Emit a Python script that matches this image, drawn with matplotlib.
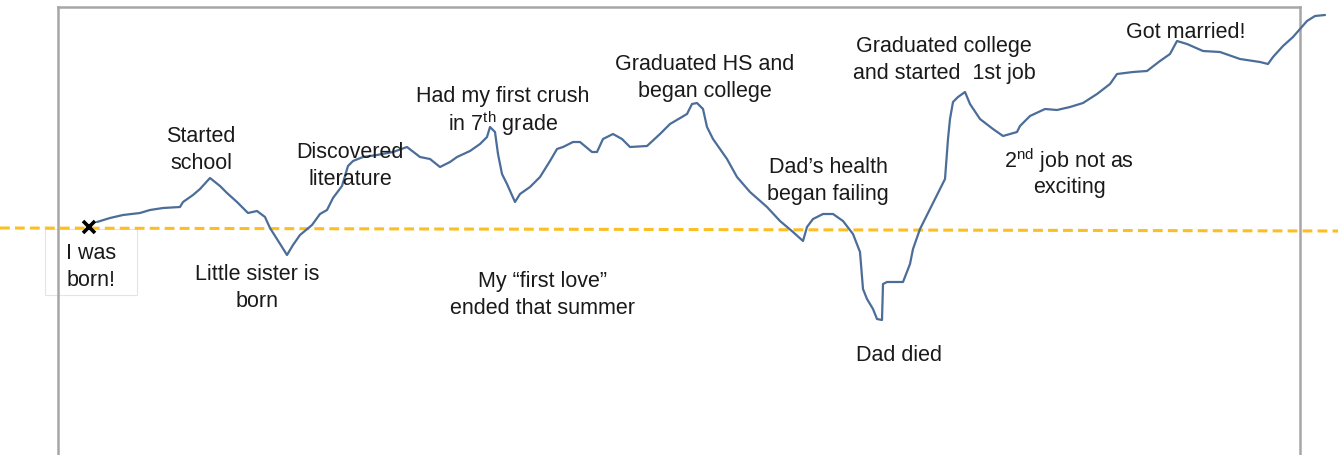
import matplotlib.pyplot as plt
from matplotlib.patches import Rectangle

plt.rcParams['font.family'] = ['Liberation Sans', 'DejaVu Sans']
plt.rcParams['mathtext.fontset'] = 'custom'
plt.rcParams['mathtext.rm'] = 'Liberation Sans'
plt.rcParams['mathtext.it'] = 'Liberation Sans'

# life line (x = time, y = screen height, smaller = happier)
life_x = [97, 110, 123, 140, 150, 163, 180, 183, 193, 200, 210, 220, 227, 237, 248,
          257, 265, 270, 277, 282, 287, 293, 300, 312, 320, 327, 333, 342, 348, 353,
          363, 377, 393, 407, 420, 430, 440, 450, 457, 470, 480, 487, 490, 495, 498,
          502, 507, 515, 520, 530, 540, 550, 557, 563, 573, 580, 592, 597, 603, 613,
          622, 630, 647, 660, 670, 687, 692, 697, 703, 707, 713, 720, 727, 737, 750,
          767, 780, 793, 803, 807, 813, 823, 833, 843, 853, 860, 863, 867, 873, 877,
          882, 883, 887, 903, 910, 913, 920, 930, 940, 945, 948, 950, 953, 958, 965,
          970, 980, 993, 1003, 1017, 1020, 1030, 1045, 1057, 1070, 1083, 1097, 1110,
          1117, 1133, 1147, 1160, 1170, 1177, 1187, 1203, 1220, 1240, 1260, 1268,
          1273, 1283, 1293, 1300, 1307, 1315, 1325]
life_y = [223, 219, 216, 214, 211, 209, 208, 203, 196, 190, 179, 187, 194, 203, 214,
          212, 218, 229, 240, 248, 256, 246, 236, 226, 215, 211, 199, 187, 167, 162,
          158, 156, 153, 148, 158, 160, 168, 163, 158, 152, 145, 138, 128, 133, 155,
          175, 185, 203, 195, 188, 178, 162, 150, 148, 143, 143, 153, 153, 140, 135,
          140, 148, 147, 135, 125, 115, 105, 104, 110, 128, 140, 150, 160, 178, 193,
          208, 222, 233, 242, 228, 220, 215, 215, 222, 235, 253, 290, 300, 310, 320,
          321, 285, 283, 283, 265, 250, 230, 210, 190, 180, 140, 120, 103, 98, 93,
          105, 120, 130, 137, 133, 127, 117, 110, 111, 108, 104, 95, 85,
          75, 73, 72, 62, 55, 42, 45, 52, 53, 60, 63, 65,
          58, 47, 38, 30, 22, 17, 16]

neutral_x = [0, 1338]
neutral_y = [229, 232]

born = (89, 228)

events = [
    ("I was\nborn!", 91, 267),
    ("Started\nschool", 201, 150),
    ("Little sister is\nborn", 257, 288),
    ("Discovered\nliterature", 350, 166),
    ("Had my first crush\nin 7$^{\\mathrm{th}}$ grade", 503, 112),
    ("My \u201cfirst love\u201d\nended that summer", 543, 295),
    ("Graduated HS and\nbegan college", 705, 78),
    ("Dad\u2019s health\nbegan failing", 828, 181),
    ("Dad died", 899, 356),
    ("Graduated college\nand started  1st job", 944, 60),
    ("2$^{\\mathrm{nd}}$ job not as\nexciting", 1069, 172),
    ("Got married!", 1186, 33),
]

fig = plt.figure(figsize=(13.38, 4.56), dpi=100)
ax = fig.add_axes([0, 0, 1, 1])
ax.set_xlim(0, 1338)
ax.set_ylim(456, 0)
ax.axis('off')

# white label box behind "I was born!"
ax.add_patch(Rectangle((45, 230), 92, 66, facecolor='white', edgecolor='#e4e4e4',
                       lw=0.8, zorder=1))

# frame (open at the bottom)
frame = '#a6a6a6'
ax.plot([58, 58], [8, 456], color=frame, lw=1.8, zorder=2)
ax.plot([1300, 1300], [8, 456], color=frame, lw=1.8, zorder=2)
ax.plot([58, 1300], [8, 8], color=frame, lw=1.8, zorder=2)

ax.plot(neutral_x, neutral_y, color='#fbbf24', lw=2.2, dashes=(3.2, 1.7), zorder=3)
ax.plot(life_x, life_y, color='#4b6d98', lw=1.6, zorder=4,
        solid_joinstyle='round', solid_capstyle='round')
ax.plot(*born, marker='x', color='black', ms=9, mew=2.6, zorder=5)

for txt, x, y in events:
    # mathtext superscripts push lines apart, so tighten those a bit
    ls = 1.12 if '$' in txt else 1.42
    ax.text(x, y, txt, ha='center', va='center', fontsize=15.5, color='#1a1a1a',
            linespacing=ls, zorder=6)

fig.savefig('out.png', dpi=100)
